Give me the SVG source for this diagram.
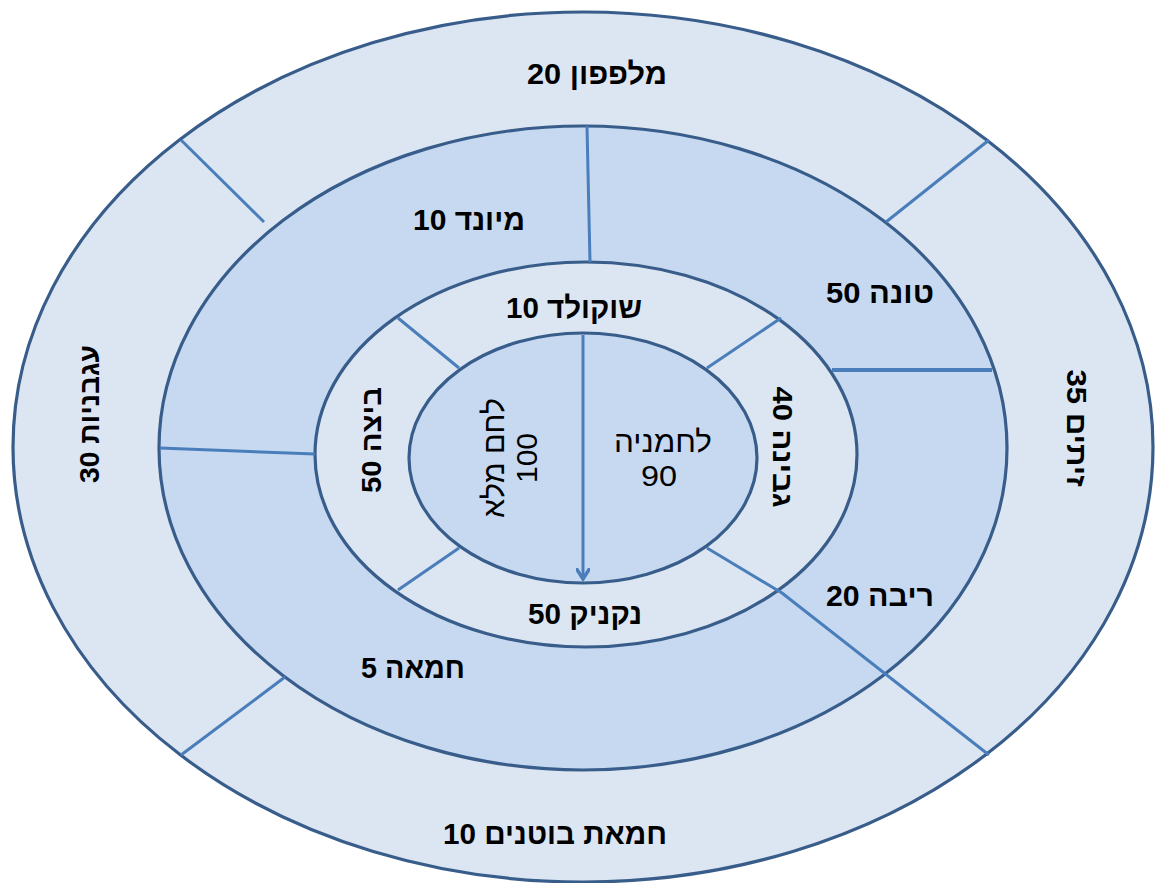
<svg xmlns="http://www.w3.org/2000/svg" width="1157" height="883" viewBox="0 0 1157 883">
  <style>
    .ring { stroke: #385D8A; stroke-width: 3.2; }
    .light { fill: #DCE6F2; }
    .dark { fill: #C6D9F1; }
    .div { stroke: #4A7EBB; stroke-width: 3; fill: none; stroke-linecap: butt; }
    .lbl { font-family: "Liberation Sans", Arial, sans-serif; font-size: 30px; font-weight: bold; fill: #000; text-anchor: middle; direction: rtl; unicode-bidi: embed; }
    .lbr { font-family: "Liberation Sans", Arial, sans-serif; font-size: 28px; font-weight: bold; fill: #000; text-anchor: middle; direction: rtl; unicode-bidi: embed; }
    .lbn { font-family: "Liberation Sans", Arial, sans-serif; font-size: 30px; font-weight: normal; fill: #000; text-anchor: middle; direction: rtl; unicode-bidi: embed; }
  </style>
  <defs>
    <marker id="arr" markerWidth="14" markerHeight="14" refX="11" refY="7" orient="auto" markerUnits="userSpaceOnUse" viewBox="0 0 14 14">
      <path d="M0,0 L11,7 L0,14" fill="none" stroke="#4A7EBB" stroke-width="3.5"/>
    </marker>
  </defs>
  <rect width="1157" height="883" fill="#FFFFFF"/>

  <g id="ring-outer">
    <ellipse class="ring light" cx="583" cy="447" rx="570" ry="435"/>
  </g>
  <g id="ring-second">
    <ellipse class="ring dark" cx="583" cy="448" rx="424" ry="322"/>
  </g>
  <g id="ring-third">
    <ellipse class="ring light" cx="586" cy="454.5" rx="271" ry="192.5"/>
  </g>
  <g id="ring-inner">
    <ellipse class="ring dark" cx="583" cy="458" rx="174" ry="125"/>
  </g>

  <g id="connectors">
    <line class="div" x1="181" y1="140" x2="264" y2="222"/>
    <line class="div" x1="989" y1="140" x2="886" y2="222"/>
    <line class="div" x1="181" y1="755" x2="285" y2="677"/>
    <polyline class="div" points="707,548 782,593 989,755"/>
    <line class="div" x1="587" y1="126" x2="590" y2="262"/>
    <line class="div" x1="832" y1="370" x2="992" y2="370" style="stroke-width:4"/>
    <line class="div" x1="160" y1="448" x2="315" y2="454"/>
    <line class="div" x1="398" y1="318" x2="459" y2="368"/>
    <line class="div" x1="781" y1="318" x2="707" y2="368"/>
    <line class="div" x1="398" y1="590" x2="459" y2="548"/>
    <line class="div" x1="583" y1="335" x2="583" y2="579" marker-end="url(#arr)"/>
  </g>

  <g id="n-cucumber"><text class="lbl" x="597" y="84" textLength="140" lengthAdjust="spacingAndGlyphs">מלפפון 20</text></g>
  <g id="n-mayo"><text class="lbl" x="469" y="230" textLength="112" lengthAdjust="spacingAndGlyphs">מיונד 10</text></g>
  <g id="n-tuna"><text class="lbl" x="880" y="303" textLength="108" lengthAdjust="spacingAndGlyphs">טונה 50</text></g>
  <g id="n-choco"><text class="lbl" x="574" y="318" textLength="136" lengthAdjust="spacingAndGlyphs">שוקולד 10</text></g>
  <g id="n-sausage"><text class="lbl" x="585" y="624" textLength="114" lengthAdjust="spacingAndGlyphs">נקניק 50</text></g>
  <g id="n-jam"><text class="lbl" x="880" y="606" textLength="108" lengthAdjust="spacingAndGlyphs">ריבה 20</text></g>
  <g id="n-butter"><text class="lbl" x="413" y="678" textLength="104" lengthAdjust="spacingAndGlyphs">חמאה 5</text></g>
  <g id="n-peanut"><text class="lbl" x="555" y="844" textLength="224" lengthAdjust="spacingAndGlyphs">חמאת בוטנים 10</text></g>

  <g id="n-roll">
    <text class="lbn" x="663" y="452" textLength="98" lengthAdjust="spacingAndGlyphs">לחמניה</text>
    <text class="lbn" x="659" y="486" textLength="36" lengthAdjust="spacingAndGlyphs">90</text>
  </g>
  <g id="n-wholebread" transform="translate(494,458) rotate(-90)">
    <text class="lbn" x="0" y="10" textLength="120" lengthAdjust="spacingAndGlyphs">לחם מלא</text>
  </g>
  <g id="n-wholebread-num" transform="translate(527,458) rotate(-90)">
    <text class="lbn" x="0" y="10" textLength="50" lengthAdjust="spacingAndGlyphs">100</text>
  </g>
  <g id="n-egg" transform="translate(371,440) rotate(-90)">
    <text class="lbr" x="0" y="10" textLength="106" lengthAdjust="spacingAndGlyphs">ביצה 50</text>
  </g>
  <g id="n-cheese" transform="translate(783,447) rotate(90)">
    <text class="lbr" x="0" y="10" textLength="121" lengthAdjust="spacingAndGlyphs">גבינה 40</text>
  </g>
  <g id="n-tomato" transform="translate(89,414) rotate(-90)">
    <text class="lbr" x="0" y="10" textLength="138" lengthAdjust="spacingAndGlyphs">עגבניות 30</text>
  </g>
  <g id="n-olives" transform="translate(1077,428) rotate(90)">
    <text class="lbr" x="0" y="10" textLength="117" lengthAdjust="spacingAndGlyphs">זיתים 35</text>
  </g>
</svg>
